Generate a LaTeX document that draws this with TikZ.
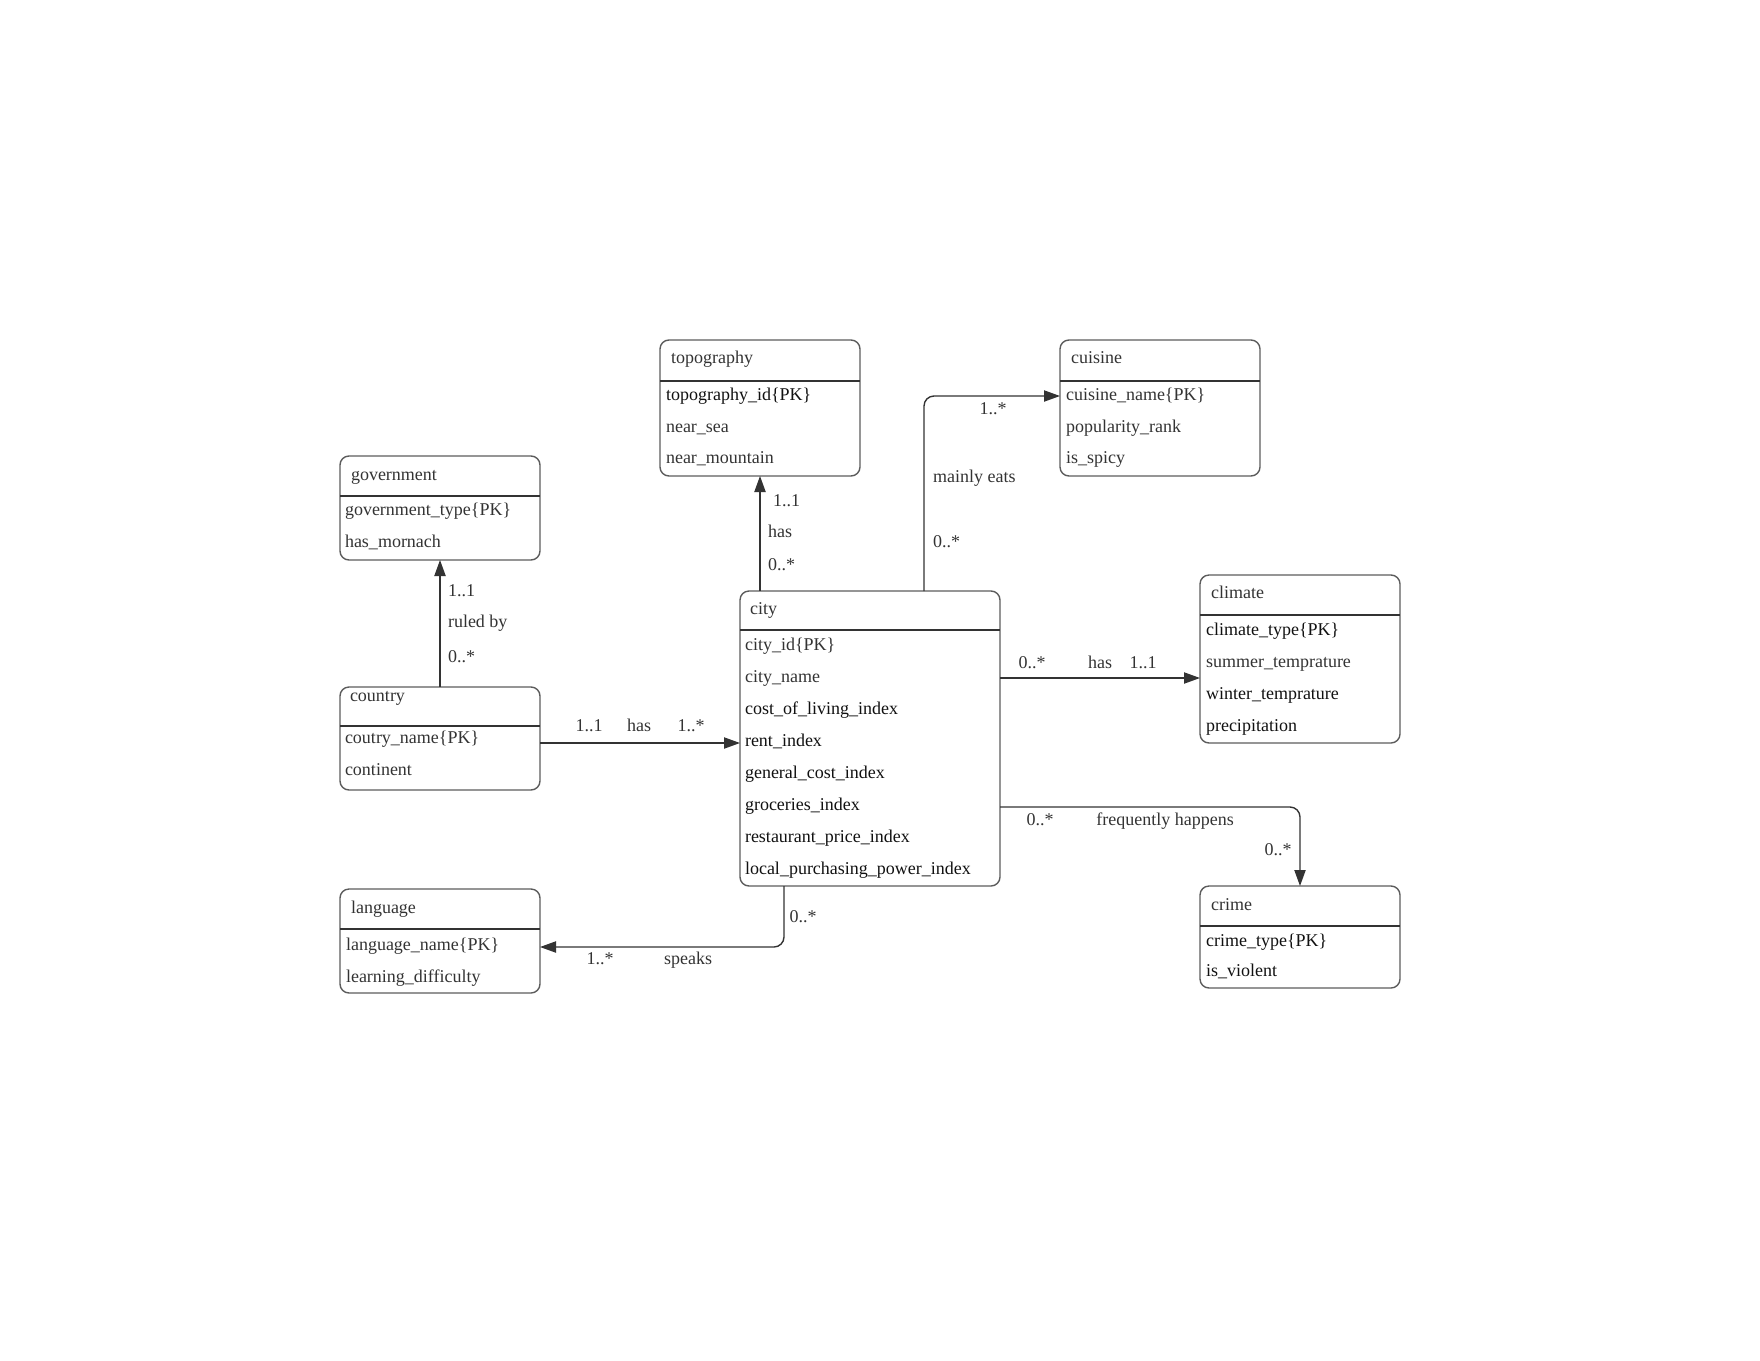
\documentclass[tikz,border=0pt]{standalone}
\usepackage{fontspec}
\setmainfont{Liberation Serif}
\usetikzlibrary{arrows.meta}
\definecolor{ink}{HTML}{333333}
\definecolor{frame}{HTML}{5C5C5C}
\definecolor{strong}{HTML}{111111}
\begin{document}
\begin{tikzpicture}[x=0.5pt,y=-0.5pt,
  entity/.style={draw=frame, line width=0.7pt, rounded corners=4.5pt,
    anchor=north west, inner sep=0pt, outer sep=0pt},
  txt/.style={anchor=west, inner sep=0pt, outer sep=0pt, yshift=-0.8pt,
    text height=0.62em, text depth=0.2em, text=ink,
    font=\fontsize{9.0}{10}\selectfont},
  dark/.style={txt, text=strong},
  lab/.style={inner sep=0pt, outer sep=0pt, yshift=-0.6pt,
    text height=0.62em, text depth=0.2em,
    text=ink, font=\fontsize{9.0}{10}\selectfont},
  labw/.style={lab, anchor=west},
  rule/.style={draw=ink, line width=0.55pt},
  link/.style={draw=ink, line width=0.7pt, rounded corners=5pt,
    -{Triangle[length=8pt,width=5.6pt]}}
]
\useasboundingbox (0,0) rectangle (1760,1360);

% ---------- entities ----------
\node[entity, minimum width=100pt, minimum height=52pt]   (gov)      at (340,456)  {};
\node[entity, minimum width=100pt, minimum height=68pt]   (topo)     at (660,340)  {};
\node[entity, minimum width=100pt, minimum height=68pt]   (cuisine)  at (1060,340) {};
\node[entity, minimum width=130pt, minimum height=147.5pt] (city)    at (740,591)  {};
\node[entity, minimum width=100pt, minimum height=84pt]   (climate)  at (1200,575) {};
\node[entity, minimum width=100pt, minimum height=51.5pt] (country)  at (340,687)  {};
\node[entity, minimum width=100pt, minimum height=52pt]   (language) at (340,889)  {};
\node[entity, minimum width=100pt, minimum height=51pt]   (crime)    at (1200,886) {};

% header separators
\draw[rule] (gov.west |- 0,496) -- (gov.east |- 0,496);
\draw[rule] (topo.west |- 0,381) -- (topo.east |- 0,381);
\draw[rule] (cuisine.west |- 0,381) -- (cuisine.east |- 0,381);
\draw[rule] (city.west |- 0,630) -- (city.east |- 0,630);
\draw[rule] (climate.west |- 0,615) -- (climate.east |- 0,615);
\draw[rule] (country.west |- 0,726) -- (country.east |- 0,726);
\draw[rule] (language.west |- 0,929) -- (language.east |- 0,929);
\draw[rule] (crime.west |- 0,926) -- (crime.east |- 0,926);

% ---------- government ----------
\node[txt] (govT)  at (351,475) {government};
\node[txt] (govA1) at (345,510) {government\_type\{PK\}};
\node[txt] (govA2) at (345,542) {has\_mornach};

% ---------- topography ----------
\node[txt]  (topoT)  at (671,358) {topography};
\node[dark] (topoA1) at (666,395) {topography\_id\{PK\}};
\node[txt]  (topoA2) at (666,427) {near\_sea};
\node[txt]  (topoA3) at (666,458) {near\_mountain};

% ---------- cuisine ----------
\node[txt] (cuiT)  at (1071,358) {cuisine};
\node[txt] (cuiA1) at (1066,395) {cuisine\_name\{PK\}};
\node[txt] (cuiA2) at (1066,427) {popularity\_rank};
\node[txt] (cuiA3) at (1066,458) {is\_spicy};

% ---------- city ----------
\node[txt]  (cityT)  at (750,609) {city};
\node[txt]  (cityA1) at (745,645) {city\_id\{PK\}};
\node[txt]  (cityA2) at (745,677) {city\_name};
\node[dark] (cityA3) at (745,709) {cost\_of\_living\_index};
\node[dark] (cityA4) at (745,741) {rent\_index};
\node[dark] (cityA5) at (745,773) {general\_cost\_index};
\node[dark] (cityA6) at (745,805) {groceries\_index};
\node[dark] (cityA7) at (745,837) {restaurant\_price\_index};
\node[dark] (cityA8) at (745,869) {local\_purchasing\_power\_index};

% ---------- climate ----------
\node[txt]  (cliT)  at (1211,593) {climate};
\node[dark] (cliA1) at (1206,630) {climate\_type\{PK\}};
\node[txt]  (cliA2) at (1206,662) {summer\_temprature};
\node[dark] (cliA3) at (1206,694) {winter\_temprature};
\node[dark] (cliA4) at (1206,726) {precipitation};

% ---------- country ----------
\node[txt] (couT)  at (350,696) {country};
\node[txt] (couA1) at (345,738) {coutry\_name\{PK\}};
\node[txt] (couA2) at (345,770) {continent};

% ---------- language ----------
\node[txt] (lanT)  at (351,908) {language};
\node[txt] (lanA1) at (346,945) {language\_name\{PK\}};
\node[txt] (lanA2) at (346,977) {learning\_difficulty};

% ---------- crime ----------
\node[txt]  (crT)  at (1211,905) {crime};
\node[dark] (crA1) at (1206,941) {crime\_type\{PK\}};
\node[dark] (crA2) at (1206,971) {is\_violent};

% ---------- relationships ----------
% country ruled by government
\draw[link] (country.north) -- (gov.south);
\node[labw] (govL1) at (448,591) {1..1};
\node[labw] (govL2) at (448,622) {ruled by};
\node[labw] (govL3) at (448,657) {0..*};

% city has topography
\draw[link] (city.north -| topo.south) -- (topo.south);
\node[labw] (topoL1) at (773,501) {1..1};
\node[labw] (topoL2) at (768,532) {has};
\node[labw] (topoL3) at (768,565) {0..*};

% city mainly eats cuisine
\coordinate (eatsStart) at (924,591);
\coordinate (eatsEnd) at (1060,396);
\draw[link] (eatsStart) |- (eatsEnd);
\node[lab]  (cuiL1) at (993,409) {1..*};
\node[labw] (cuiL2) at (933,477) {mainly eats};
\node[labw] (cuiL3) at (933,542) {0..*};

% country has city
\draw[link] (country.east |- 0,743) -- (city.west |- 0,743);
\node[lab] (couL1) at (589,726) {1..1};
\node[lab] (couL2) at (639,726) {has};
\node[lab] (couL3) at (691,726) {1..*};

% city has climate
\draw[link] (city.east |- 0,678) -- (climate.west |- 0,678);
\node[lab] (cliL1) at (1032,663) {0..*};
\node[lab] (cliL2) at (1100,663) {has};
\node[lab] (cliL3) at (1143,663) {1..1};

% crime frequently happens in city
\draw[link] (city.east |- 0,807) -| (crime.north);
\node[lab] (crL1) at (1040,820) {0..*};
\node[lab] (crL2) at (1165,820) {frequently happens};
\node[lab] (crL3) at (1278,850) {0..*};

% city speaks language
\coordinate (speakStart) at (784,886);
\draw[link] (speakStart) |- (language.east |- 0,947);
\node[lab] (lanL1) at (803,917) {0..*};
\node[lab] (lanL2) at (600,959) {1..*};
\node[lab] (lanL3) at (688,959) {speaks};
\end{tikzpicture}
\end{document}
